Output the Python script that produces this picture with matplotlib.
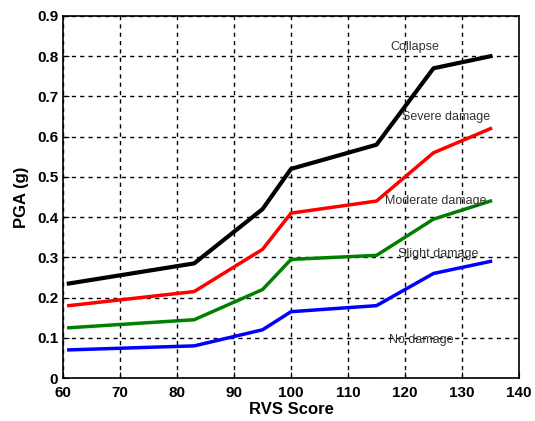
import matplotlib
matplotlib.use("Agg")
import matplotlib.pyplot as plt

plt.rcParams['font.family'] = ['Liberation Sans', 'DejaVu Sans']

rvs_score = [61, 83, 95, 100, 115, 125, 135]
collapse = [0.235, 0.285, 0.42, 0.52, 0.58, 0.77, 0.80]
severe = [0.18, 0.215, 0.32, 0.41, 0.44, 0.56, 0.62]
moderate = [0.125, 0.145, 0.22, 0.295, 0.305, 0.395, 0.44]
slight = [0.07, 0.08, 0.12, 0.165, 0.18, 0.26, 0.29]

labels = ["Collapse", "Severe damage", "Moderate damage", "Slight damage", "No damage"]
label_x = [117.4, 119.5, 116.5, 118.8, 117.2]
label_y = [0.823, 0.65, 0.44, 0.308, 0.095]

fig = plt.figure(figsize=(5.35, 4.21), dpi=100)
ax = fig.add_axes([0.118, 0.102, 0.852, 0.86])

ax.plot(rvs_score, collapse, color='black', lw=3)
ax.plot(rvs_score, severe, color='red', lw=2.5)
ax.plot(rvs_score, moderate, color='green', lw=2.5)
ax.plot(rvs_score, slight, color='blue', lw=2.5)

for t, x, y in zip(labels, label_x, label_y):
    ax.text(x, y, t, fontsize=9, color='#333333', va='center', ha='left')

ax.set_xlim(60, 140)
ax.set_ylim(0, 0.9)
ax.set_xticks(range(60, 141, 10))
ax.set_yticks([i / 10 for i in range(10)])
ax.set_yticklabels(["0", "0.1", "0.2", "0.3", "0.4", "0.5", "0.6", "0.7", "0.8", "0.9"])
ax.grid(True, color='black', linestyle=(0, (3, 3)), lw=1)
ax.tick_params(direction='in', labelsize=11, length=4)
ax.tick_params(axis='x', pad=6)
for lbl in ax.get_xticklabels() + ax.get_yticklabels():
    lbl.set_fontweight('bold')
for s in ax.spines.values():
    s.set_linewidth(1.2)

ax.set_xlabel("RVS Score", fontsize=12, fontweight='bold', labelpad=1)
ax.set_ylabel("PGA (g)", fontsize=12, fontweight='bold', labelpad=6)

fig.savefig("out.png", dpi=100)
